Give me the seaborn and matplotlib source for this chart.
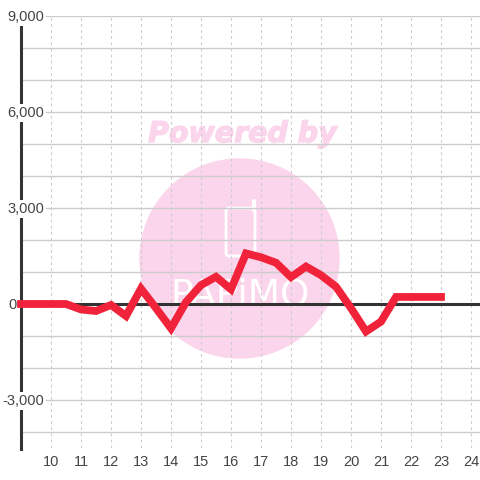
import matplotlib
matplotlib.use("Agg")
import matplotlib.pyplot as plt
import matplotlib.patheffects as pe
import pandas as pd
import seaborn as sns
from matplotlib.lines import Line2D
from matplotlib.patches import Circle, FancyBboxPatch
from matplotlib.ticker import MultipleLocator

# dades
hours = [9, 9.5, 10, 10.5, 11, 11.5, 12, 12.5, 13, 13.5, 14, 14.5, 15, 15.5, 16,
         16.5, 17, 17.5, 18, 18.5, 19, 19.5, 20, 20.5, 21, 21.5, 22, 22.5, 23]
values = [0, 0, 0, 0, -170, -220, -30, -375, 480, -130, -760, 60, 590, 850, 460,
          1580, 1460, 1290, 840, 1170, 900, 540, -130, -860, -550, 220, 220, 220, 220]
x_ticks = list(range(10, 25))
y_ticks = [9000, 6000, 3000, 0, -3000]
y_labels = ["9,000", "6,000", "3,000", "0", "-3,000"]

sns.set_theme(style="white")
plt.rcParams["font.family"] = ["Liberation Sans", "DejaVu Sans"]

df = pd.DataFrame({"hour": hours, "value": values})

fig = plt.figure(figsize=(4.8, 4.8), dpi=100, facecolor="white")
ax = fig.add_axes([21 / 480, 32 / 480, 459 / 480, 432 / 480], zorder=2)
ax.set_xlim(9, 24.3)
ax.set_ylim(-4500, 9000)
ax.patch.set_alpha(0)

# marca d'aigua (en pixels de la figura)
pink = "#fbd5ec"
wm = fig.transFigure
fig.add_artist(Circle((239.5 / 480, 1 - 258.5 / 480), 99.5 / 480, transform=wm, color=pink, zorder=0))
fig.add_artist(FancyBboxPatch((226 / 480, 1 - 256 / 480), 29 / 480, 48 / 480, transform=wm,
                              boxstyle="round,pad=0,rounding_size=0.006", fc="none", ec="white", lw=2, zorder=0.5))
fig.add_artist(Line2D([254 / 480, 254 / 480], [1 - 210 / 480, 1 - 201 / 480], transform=wm, color="white",
                      lw=3, solid_capstyle="round", zorder=0.5))
fig.text(242.5 / 480, 1 - 134 / 480, "Powered by", color=pink, fontsize=20.5, fontweight="bold",
         fontstyle="italic", family="DejaVu Sans", ha="center", va="center", zorder=0.5,
         path_effects=[pe.withStroke(linewidth=1, foreground=pink)])
fig.text(240 / 480, 1 - 306 / 480, "PAPiMO", color="white", fontsize=27, family="DejaVu Sans",
         ha="center", va="baseline", zorder=0.5)

ax.yaxis.set_major_locator(MultipleLocator(1000))
ax.set_xticks(x_ticks)
ax.grid(True, axis="y", color="#cccccc", lw=1)
ax.grid(True, axis="x", color="#cccccc", lw=0.8, ls=(0, (2.5, 3)))
ax.set_axisbelow(True)
ax.tick_params(axis="y", length=0, labelleft=False)
ax.tick_params(axis="x", length=0, labelsize=10.5, labelcolor="#444444", pad=5)

for s in ["top", "right", "bottom"]:
    ax.spines[s].set_visible(False)
ax.spines["left"].set_color("#333333")
ax.spines["left"].set_linewidth(2.2)
ax.spines["left"].set_bounds(-4530, 8750)

ax.axhline(0, color="#333333", lw=2.2, zorder=2)

for t, lab in zip(y_ticks, y_labels):
    # el 0 queda a l'esquerra de l'eix, els altres el tapen
    x_lab = -0.01 if lab == "0" else 0.05
    ax.text(x_lab, t - 30, lab, transform=ax.get_yaxis_transform(), ha="right", va="center", fontsize=10.5,
            color="#444444", clip_on=False, zorder=3,
            bbox=None if lab == "0" else dict(fc="white", ec="none", pad=1.2))

sns.lineplot(data=df, x="hour", y="value", ax=ax, color="#f0233a", lw=5.6, clip_on=False, zorder=4,
             solid_joinstyle="miter", solid_capstyle="projecting", errorbar=None)
ax.set_xlabel("")
ax.set_ylabel("")

fig.savefig("out.png", dpi=100)
